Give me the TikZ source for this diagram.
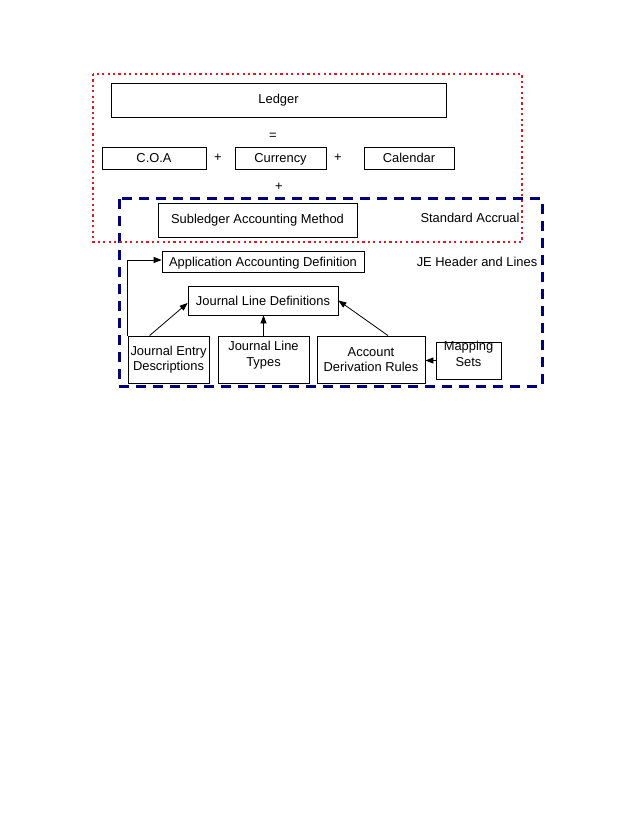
\documentclass[tikz,border=0pt]{standalone}
\usepackage{fontspec}
\setmainfont{Liberation Sans}
\usepackage{tikz}
\usetikzlibrary{calc, arrows.meta}

\definecolor{ledgerred}{RGB}{206,28,40}
\definecolor{slanavy}{RGB}{0,0,120}

\begin{document}
\begin{tikzpicture}[
        x=1pt, y=-1pt,
        >={Triangle[length=8pt, width=6pt]},
        every node/.style = {
            font=\fontsize{12.9}{15.5}\selectfont,
            inner sep=0pt
        },
        box/.style = {
            draw,
            line width=0.8pt,
            align=center
        },
        link/.style = {
            ->,
            line width=0.8pt
        },
        ledgerframe/.style = {
            draw=ledgerred,
            line width=2.4pt,
            dash pattern=on 2.2pt off 3.2pt
        },
        slaframe/.style = {
            draw=slanavy,
            line width=3pt,
            dash pattern=on 10pt off 7pt
        }]
        \useasboundingbox (0,0) rectangle (638,826);

        % ledger part
        \node[box, minimum width=335pt, minimum height=34pt] (ledger) at (278.5,100) {Ledger};
        \node (eq) at (273,136) {=};
        \node[box, minimum width=104pt, minimum height=22pt] (coa) at (154,158) {C.O.A};
        \node (plusA) at (218,158) {+};
        \node[box, minimum width=91pt, minimum height=22pt, text depth=0pt] (currency) at (280.5,158) {Currency};
        \node (plusB) at (338,158) {+};
        \node[box, minimum width=90pt, minimum height=22pt] (calendar) at (409,158) {Calendar};
        \node (plusC) at (279,187) {+};

        % subledger part
        \node[box, minimum width=199pt, minimum height=34pt] (sla) at (257.5,220) {Subledger Accounting Method};
        \node (accrual) at (470,218) {Standard Accrual};
        \node[box, minimum width=202pt, minimum height=21pt, text depth=0pt] (aad) at (263,261.5) {Application Accounting Definition};
        \node (jelines) at (477,262) {JE Header and Lines};
        \node[box, minimum width=150pt, minimum height=29pt] (jld) at (263,300.5) {Journal Line Definitions};
        \node[box, minimum width=81pt, minimum height=47pt] (jed) at (168.5,359.5) {Journal Entry\\Descriptions};
        \node[box, minimum width=91pt, minimum height=47pt, text height=18pt, text depth=4.4pt] (jlt) at (263.5,359.5) {Journal Line\\Types};
        \node[box, minimum width=108pt, minimum height=47pt] (adr) at (371,359.5) {Account\\Derivation Rules};
        \node[box, minimum width=65pt, minimum height=37pt, text height=17pt, text depth=5.4pt] (ms) at (468.5,360.5) {Mapping\\Sets};

        \draw[link] ($(jed.north west)+(22,0)$) -- ([yshift=-2.5pt]jld.west);
        \draw[link] (jlt.north) -- (jlt.north |- jld.south);
        \draw[link] ($(adr.north)+(17,0)$) -- (jld.east);
        \draw[link] (ms.west) -- (ms.west -| adr.east);
        \draw[link] (jed.north west) |- ([yshift=1.5pt]aad.west);

        % frames
        \draw[slaframe] (119,199) rectangle (542,386);
        \draw[ledgerframe] (93,74) rectangle (522,242);
    \end{tikzpicture}
\end{document}
